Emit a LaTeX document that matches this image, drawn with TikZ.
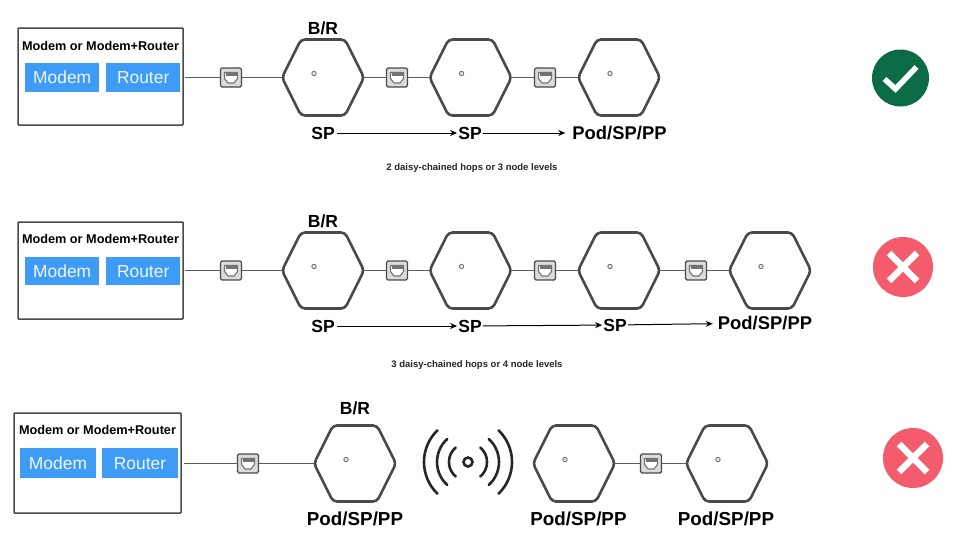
\documentclass[tikz,border=0pt]{standalone}
\usepackage{fontspec}
\setmainfont{Liberation Sans}
\usetikzlibrary{calc,arrows.meta}
\definecolor{hexc}{HTML}{4A4A4A}
\definecolor{btn}{HTML}{3E9BF6}
\definecolor{okc}{HTML}{0B6B45}
\definecolor{noc}{HTML}{F45B6C}
\tikzset{
  x=1pt,y=-1pt,
  hexbox/.style={minimum width=82pt,minimum height=76pt,inner sep=0pt,outer sep=0pt},
  hexline/.style={draw=hexc,line width=2.6pt,rounded corners=4pt,line join=round},
  link/.style={draw=hexc!90,line width=1.2pt},
  flow/.style={draw=black,line width=1pt,-{Stealth[length=7pt,width=6pt]}},
  mbox/.style={draw=hexc,line width=1.5pt,inner sep=0pt,outer sep=0pt,rounded corners=0.8pt},
  mtitle/.style={font=\fontsize{12.7pt}{14pt}\selectfont\bfseries,inner sep=0pt},
  btnbox/.style={fill=btn,text=white!93!btn,font=\fontsize{17.4pt}{19pt}\selectfont,inner sep=0pt,text height=12.5pt,text depth=0pt},
  lab/.style={font=\fontsize{17.5pt}{20pt}\selectfont\bfseries,inner sep=1pt},
  podlab/.style={font=\fontsize{#1pt}{20pt}\selectfont\bfseries,inner sep=1pt},
  captext/.style={font=\fontsize{9.5pt}{11pt}\selectfont\bfseries,text=black!85,inner sep=0pt},
  eth/.style={draw=hexc,fill=black!14,line width=1.4pt,rounded corners=1.5pt,minimum width=21pt,minimum height=19pt,inner sep=0pt,outer sep=0pt},
  wave/.style={draw=black!85,line width=2.6pt,line cap=round},
  status/.style={circle,inner sep=0pt,outer sep=0pt},
  mark line/.style={draw=white,line width=5.5pt}
}
\newcommand{\hexa}[3]{%
  \node[hexbox] (#1) at (#2,#3) {};
  \draw[hexline] (#1.west) -- ($(#1.north west)+(19,0)$) -- ($(#1.north east)+(-19,0)$) -- (#1.east)
    -- ($(#1.south east)+(-19,0)$) -- ($(#1.south west)+(19,0)$) -- cycle;
  \draw[draw=black!55,fill=black!10,line width=0.9pt] ($(#1.center)+(-9,-4)$) circle (2.2);
}
\newcommand{\ethn}[3]{%
  \node[eth] (#1) at (#2,#3) {};
  \draw[black!55,fill=white,line width=1.1pt,line join=round] ($(#1.center)+(-6.5,-5)$) -- ($(#1.center)+(6.5,-5)$) -- ($(#1.center)+(6.5,1)$) -- ($(#1.center)+(3,5.5)$) -- ($(#1.center)+(-3,5.5)$) -- ($(#1.center)+(-6.5,1)$) -- cycle;
  \fill[black!55] ($(#1.center)+(-5.5,-4.5)$) rectangle ($(#1.center)+(5.5,-1.5)$);
}
\newcommand{\modem}[9]{%
  \node[mbox,minimum width=#4pt-#2pt,minimum height=#5pt-#3pt] (#1) at ({(#2+#4)/2},{(#3+#5)/2}) {};
  \node[mtitle] (#1t) at ({(#2+#4)/2},#6) {Modem or Modem+Router};
  \ifnum#9=0
    \node[btnbox,minimum width=74.5pt,minimum height=#8pt-#7pt] (#1m) at (62.2,{(#7+#8)/2}) {Modem};
    \node[btnbox,minimum width=74.5pt,minimum height=#8pt-#7pt] (#1r) at (143.2,{(#7+#8)/2}) {Router};
  \else
    \node[btnbox,minimum width=76pt,minimum height=#8pt-#7pt] (#1m) at (58,{(#7+#8)/2}) {Modem};
    \node[btnbox,minimum width=76pt,minimum height=#8pt-#7pt] (#1r) at (140,{(#7+#8)/2}) {Router};
  \fi
}
\begin{document}
\begin{tikzpicture}
\useasboundingbox[fill=white] (0,0) rectangle (972,549);
% row 1
\modem{ma}{18}{28}{183}{125}{46}{63}{92}{0}
\hexa{a1}{323}{77.5}
\hexa{a2}{470.5}{77.5}
\hexa{a3}{619}{77.5}
\ethn{ea1}{231}{77.5}
\ethn{ea2}{397}{77.5}
\ethn{ea3}{545}{77.5}
\draw[link] ($(ma.east|-ea1)+(2,0)$) -- (ea1);
\draw[link] (ea1) -- (a1.west);
\draw[link] (a1.east) -- (ea2);
\draw[link] (ea2) -- (a2.west);
\draw[link] (a2.east) -- (ea3);
\draw[link] (ea3) -- (a3.west);
\node[lab] (brA) at (323,28) {B/R};
\node[lab] (spA1) at (323,133) {SP};
\node[lab] (spA2) at (470,133) {SP};
\node[podlab=18.4] (podA) at (619.5,133) {Pod/SP/PP};
\draw[flow,shorten <=1pt] (spA1) -- (spA2);
\draw[flow,shorten >=6pt] (spA2) -- (podA);
\node[captext] (capA) at (472,168) {2 daisy-chained hops or 3 node levels};
\node[status,fill=okc,minimum size=57pt] (okA) at (900.5,78) {};
\draw[mark line] ($(okA.center)+(-16,1)$) -- ($(okA.center)+(-5,11)$) -- ($(okA.center)+(16,-11)$);
% row 2
\modem{mb}{18}{222}{183}{319}{239}{257}{285}{0}
\hexa{b1}{323}{270.5}
\hexa{b2}{470.5}{270.5}
\hexa{b3}{619}{270.5}
\hexa{b4}{770}{270.5}
\ethn{eb1}{231}{270.5}
\ethn{eb2}{397}{270.5}
\ethn{eb3}{545}{270.5}
\ethn{eb4}{696}{270.5}
\draw[link] ($(mb.east|-eb1)+(2,0)$) -- (eb1);
\draw[link] (eb1) -- (b1.west);
\draw[link] (b1.east) -- (eb2);
\draw[link] (eb2) -- (b2.west);
\draw[link] (b2.east) -- (eb3);
\draw[link] (eb3) -- (b3.west);
\draw[link] (b3.east) -- (eb4);
\draw[link] (eb4) -- (b4.west);
\node[lab] (brB) at (323,221) {B/R};
\node[lab] (spB1) at (323,326) {SP};
\node[lab] (spB2) at (470,326) {SP};
\node[lab] (spB3) at (615,325) {SP};
\node[podlab=18.4] (podB) at (765,323) {Pod/SP/PP};
\draw[flow,shorten <=1pt] (spB1) -- (spB2);
\draw[flow] (spB2) -- (spB3);
\draw[flow,shorten >=4pt] (spB3) -- (podB);
\node[captext] (capB) at (477,365) {3 daisy-chained hops or 4 node levels};
\node[status,fill=noc,minimum size=60pt] (noB) at (903,267) {};
\draw[mark line,line width=6.5pt] ($(noB.center)+(-14,-14)$) -- ($(noB.center)+(14,14)$);
\draw[mark line,line width=6.5pt] ($(noB.center)+(14,-14)$) -- ($(noB.center)+(-14,14)$);
% row 3
\modem{mc}{14}{413}{181}{513}{430}{448}{478}{1}
\hexa{c0}{355}{463.5}
\hexa{c1}{574}{463.5}
\hexa{c2}{727}{463.5}
\ethn{ec1}{248}{463.5}
\ethn{ec2}{651}{463.5}
\draw[link] ($(mc.east|-ec1)+(3,0)$) -- (ec1);
\draw[link] (ec1) -- (c0.west);
\draw[link] (c1.east) -- (ec2);
\draw[link] (ec2) -- (c2.west);
\node[lab] (brC) at (355,408) {B/R};
\node[podlab=18.8] (podC0) at (355,519) {Pod/SP/PP};
\node[podlab=18.8] (podC1) at (578.5,519) {Pod/SP/PP};
\node[podlab=18.8] (podC2) at (726,519) {Pod/SP/PP};
% wireless
\coordinate (w) at (468,462);
\draw[wave] (w) circle (4.5);
\foreach \r/\a in {19/50,31/48,44/46}{
  \draw[wave] plot[smooth,domain=-\a:\a,samples=15] ({468+\r*cos(\x)},{462+\r*sin(\x)});
  \draw[wave] plot[smooth,domain=-\a:\a,samples=15] ({468-\r*cos(\x)},{462+\r*sin(\x)});
}
\node[status,fill=noc,minimum size=60pt] (noC) at (913,458) {};
\draw[mark line,line width=6.5pt] ($(noC.center)+(-14,-14)$) -- ($(noC.center)+(14,14)$);
\draw[mark line,line width=6.5pt] ($(noC.center)+(14,-14)$) -- ($(noC.center)+(-14,14)$);
\end{tikzpicture}
\end{document}
